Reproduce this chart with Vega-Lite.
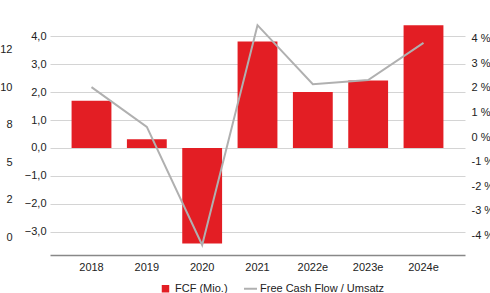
{
  "$schema": "https://vega.github.io/schema/vega-lite/v6.json",
  "autosize": {"type": "none"},
  "width": 415,
  "height": 235,
  "padding": {"left": 50, "top": 20, "right": 25, "bottom": 38},
  "background": "white",
  "config": {
    "font": "Liberation Sans",
    "view": {"stroke": null},
    "axis": {"labelFont": "Liberation Sans", "labelFontSize": 11, "labelColor": "#222222", "title": null},
    "legend": {"labelFont": "Liberation Sans", "labelFontSize": 11, "labelColor": "#222222"}
  },
  "data": {
    "values": [
      {"year": "2018", "fcf": 1.69, "ratio": 2.03},
      {"year": "2019", "fcf": 0.31, "ratio": 0.41},
      {"year": "2020", "fcf": -3.43, "ratio": -4.39},
      {"year": "2021", "fcf": 3.82, "ratio": 4.55},
      {"year": "2022e", "fcf": 2.01, "ratio": 2.15},
      {"year": "2023e", "fcf": 2.42, "ratio": 2.32},
      {"year": "2024e", "fcf": 4.4, "ratio": 3.83}
    ]
  },
  "encoding": {
    "x": {
      "field": "year", "type": "ordinal", "sort": null,
      "scale": {"paddingInner": 0.28, "paddingOuter": 0.39},
      "axis": {"labelAngle": 0, "domainColor": "#888888", "domainWidth": 1.5, "ticks": false, "labelPadding": 6, "grid": false}
    }
  },
  "layer": [
    {
      "mark": {"type": "bar"},
      "encoding": {
        "y": {
          "field": "fcf", "type": "quantitative",
          "scale": {"domain": [-3.84, 4.59], "nice": false, "zero": false},
          "axis": {"orient": "left", "values": [-3, -2, -1, 0, 1, 2, 3, 4], "grid": true, "gridColor": "#d4d4d4", "gridWidth": 1, "domain": false, "ticks": false, "labelPadding": 4,
                   "labelExpr": "replace(format(datum.value, '.1f'), '.', ',')"}
        },
        "color": {"datum": "FCF (Mio.)", "type": "nominal",
          "scale": {"domain": ["FCF (Mio.)", "Free Cash Flow / Umsatz"], "range": ["#e31e24", "#b0b0b0"]},
          "legend": {"orient": "none", "legendX": 110, "legendY": 263, "direction": "horizontal", "title": null, "columnPadding": 12, "labelOffset": 4, "symbolSize": 100,
            "encode": {"symbols": {"update": {
              "shape": {"signal": "datum.label == 'FCF (Mio.)' ? 'square' : 'stroke'"},
              "fill": {"signal": "datum.label == 'FCF (Mio.)' ? '#e31e24' : 'transparent'"},
              "stroke": {"signal": "datum.label == 'FCF (Mio.)' ? '#e31e24' : '#b0b0b0'"},
              "strokeWidth": {"signal": "datum.label == 'FCF (Mio.)' ? 0 : 2"},
              "size": {"signal": "datum.label == 'FCF (Mio.)' ? 56 : 169"}
            }}}
          }
        }
      }
    },
    {
      "mark": {"type": "line", "strokeWidth": 2},
      "encoding": {
        "y": {
          "field": "ratio", "type": "quantitative",
          "scale": {"domain": [-4.8, 4.76], "nice": false, "zero": false},
          "axis": {"orient": "right", "values": [-4, -3, -2, -1, 0, 1, 2, 3, 4], "grid": false, "domain": false, "ticks": false, "labelPadding": 6,
                   "labelExpr": "datum.value + ' %'"}
        },
        "color": {"datum": "Free Cash Flow / Umsatz", "type": "nominal"}
      }
    },
    {
      "mark": {"type": "tick", "opacity": 0},
      "encoding": {
        "y": {
          "field": "fcf", "type": "quantitative",
          "scale": {"domain": [-0.48, 5.79], "nice": false, "zero": false},
          "axis": {"orient": "left", "offset": 38, "values": [0, 1, 2, 3, 4, 5], "grid": false, "domain": false, "ticks": false, "labelPadding": 0,
                   "labelExpr": "['0','2','5','8','10','12'][datum.value]"}
        }
      }
    }
  ],
  "resolve": {"scale": {"y": "independent"}}
}
